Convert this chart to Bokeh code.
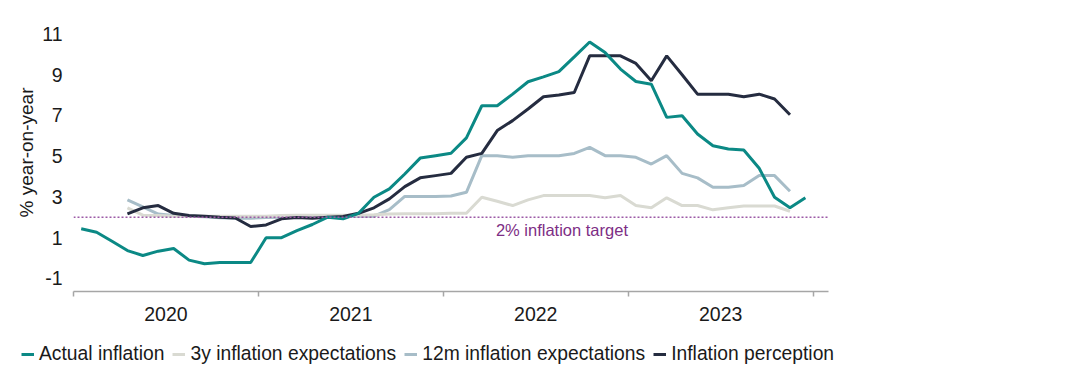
from bokeh.plotting import figure
from bokeh.models import ColumnDataSource, FixedTicker, Span, Label, Legend, LegendItem, Range1d
from bokeh.embed import file_html
from bokeh.resources import INLINE

NaN = float("nan")

years = ["2020", "2021", "2022", "2023"]

actual_inflation = [
    1.43, 1.26, 0.82, 0.36, 0.12, 0.33, 0.46, -0.11, -0.29, -0.23, -0.23, -0.23,
    0.99, 0.99, 1.34, 1.64, 2.00, 1.92, 2.19, 2.98, 3.39, 4.12, 4.90, 5.02,
    5.14, 5.89, 7.47, 7.47, 8.04, 8.65, 8.89, 9.15, 9.87, 10.60, 10.08, 9.27,
    8.66, 8.53, 6.90, 6.98, 6.08, 5.51, 5.35, 5.30, 4.40, 2.98, 2.46, 2.95,
]
exp_3y = [
    NaN, NaN, NaN, 2.46, 2.10, 2.08, 2.05, 2.05, 2.05, 2.05, 2.05, 2.05,
    2.05, 2.08, 2.10, 2.10, 2.10, 2.10, 2.10, 2.12, 2.15, 2.17, 2.17, 2.17,
    2.19, 2.19, 2.98, 2.78, 2.57, 2.85, 3.06, 3.06, 3.06, 3.06, 2.95, 3.06,
    2.57, 2.46, 2.95, 2.57, 2.57, 2.36, 2.46, 2.55, 2.55, 2.55, 2.29, NaN,
]
exp_12m = [
    NaN, NaN, NaN, 2.85, 2.50, 2.15, 2.08, 2.05, 2.02, 1.97, 1.95, 1.95,
    1.98, 2.00, 2.03, 2.05, 2.05, 2.05, 2.05, 2.05, 2.37, 3.02, 3.02, 3.02,
    3.04, 3.22, 5.02, 5.02, 4.94, 5.02, 5.02, 5.02, 5.13, 5.43, 5.02, 5.02,
    4.94, 4.61, 5.02, 4.15, 3.93, 3.47, 3.47, 3.55, 4.04, 4.04, 3.27, NaN,
]
perception = [
    NaN, NaN, NaN, 2.16, 2.46, 2.57, 2.19, 2.08, 2.05, 2.00, 1.96, 1.54,
    1.62, 1.92, 1.98, 1.95, 2.00, 2.03, 2.19, 2.46, 2.90, 3.50, 3.93, 4.04,
    4.15, 4.94, 5.13, 6.25, 6.74, 7.31, 7.91, 8.00, 8.12, 9.92, 9.92, 9.92,
    9.55, 8.70, 9.92, 8.99, 8.04, 8.04, 8.04, 7.91, 8.04, 7.80, 7.03, NaN,
]
series_names = ["Actual inflation", "3y inflation expectations",
                "12m inflation expectations", "Inflation perception"]
y_ticks = [-1, 1, 3, 5, 7, 9, 11]
target = 2.0

COLORS = {"actual": "#0B8985", "e3": "#D9DAD2", "e12": "#A7BDC8", "perc": "#252C40"}

months = list(range(len(actual_inflation)))
src = ColumnDataSource(dict(x=months, actual=actual_inflation, e3=exp_3y,
                            e12=exp_12m, perc=perception))

FONT = "Liberation Sans"
TXT = "#1A1A1A"

p = figure(width=1072, height=335, output_backend="svg", toolbar_location=None,
           x_range=Range1d(-0.5, 48.5), y_range=Range1d(-1.65, 12.0),
           min_border_left=73, min_border_right=244, min_border_top=13,
           min_border_bottom=44)
p.outline_line_color = None
p.xgrid.grid_line_color = None
p.ygrid.grid_line_color = None

p.add_layout(Span(location=target, dimension="width", line_color="#9C5AA6",
                  line_dash="2 2", line_width=1.5))

for key in ["e12", "e3", "perc", "actual"]:
    p.line("x", key, source=src, line_color=COLORS[key], line_width=3)

p.add_layout(Label(x=31.2, y=1.39, text="2% inflation target", text_align="center",
                   text_baseline="middle", text_color="#7D2E85",
                   text_font=FONT, text_font_size="16.5px"))

# x axis: year labels centred, tick marks at year boundaries
mids = [5.5 + 12 * i for i in range(len(years))]
bounds = [-0.5 + 12 * i for i in range(len(years) + 1)]
p.xaxis.ticker = FixedTicker(ticks=mids, minor_ticks=bounds)
p.xaxis.major_label_overrides = {m: y for m, y in zip(mids, years)}
p.xaxis.major_tick_out = 0
p.xaxis.major_tick_in = 0
p.xaxis.minor_tick_out = 5
p.xaxis.minor_tick_in = 0
p.xaxis.minor_tick_line_color = "#A6A6A6"
p.xaxis.minor_tick_line_width = 1.5
p.xaxis.axis_line_color = "#A6A6A6"
p.xaxis.axis_line_width = 1.5
p.xaxis.major_label_standoff = 10
p.xaxis.major_label_text_font = FONT
p.xaxis.major_label_text_font_size = "19.5px"
p.xaxis.major_label_text_color = TXT

p.yaxis.ticker = FixedTicker(ticks=y_ticks)
p.yaxis.major_label_overrides = {t: str(t) for t in y_ticks}
p.yaxis.axis_line_color = None
p.yaxis.major_tick_line_color = None
p.yaxis.minor_tick_line_color = None
p.yaxis.major_label_standoff = 5
p.yaxis.major_label_text_font = FONT
p.yaxis.major_label_text_font_size = "19.5px"
p.yaxis.major_label_text_color = TXT
p.yaxis.axis_label = "% year-on-year"
p.yaxis.axis_label_text_font = FONT
p.yaxis.axis_label_text_font_size = "19px"
p.yaxis.axis_label_text_font_style = "normal"
p.yaxis.axis_label_text_color = TXT
p.yaxis.axis_label_standoff = 2

# legend strip below the chart (separate root so it is not frame-aligned)
lg = figure(width=1072, height=39, output_backend="svg", toolbar_location=None,
            x_range=Range1d(-10, -9), y_range=Range1d(0, 1),
            min_border_left=0, min_border_right=0, min_border_top=0, min_border_bottom=0)
lg.axis.visible = False
lg.grid.visible = False
lg.outline_line_color = None
items = []
for key, name in zip(["actual", "e3", "e12", "perc"], series_names):
    r = lg.line("x", key, source=src, line_color=COLORS[key], line_width=3)
    items.append(LegendItem(label=name, renderers=[r]))
legend = Legend(items=items, orientation="horizontal", location=(21, 9),
                glyph_width=13, glyph_height=20, label_standoff=5, spacing=8,
                padding=0, margin=0, border_line_color=None, background_fill_alpha=0,
                label_text_font=FONT, label_text_font_size="19.3px", label_text_color=TXT)
lg.add_layout(legend, "center")

open("out.html", "w").write(file_html([p, lg], INLINE))
